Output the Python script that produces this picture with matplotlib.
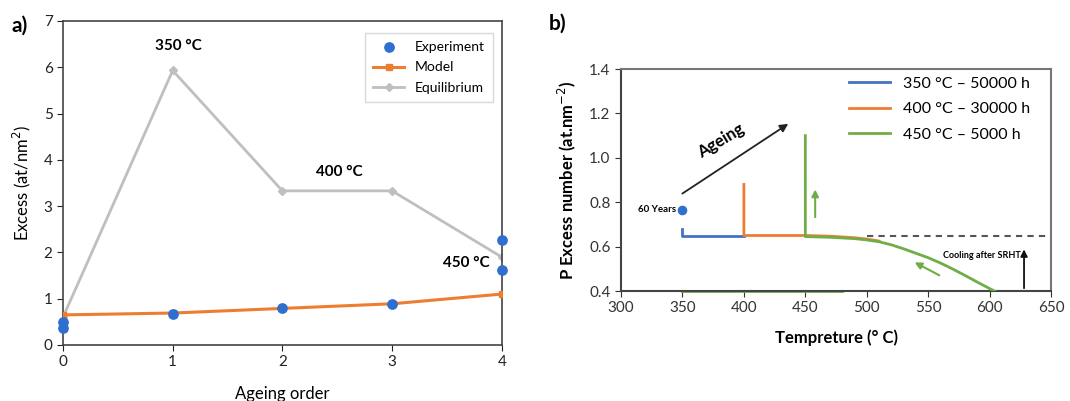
import matplotlib
matplotlib.use("Agg")
import matplotlib.pyplot as plt
import numpy as np

plt.rcParams['font.family'] = ['Lato', 'DejaVu Sans']

# ---- Panel a data ----
order = [0, 1, 2, 3, 4]
exp_x = [0, 0, 1, 2, 3, 4, 4]
exp_y = [0.50, 0.37, 0.67, 0.80, 0.89, 2.27, 1.62]
model_y = [0.65, 0.69, 0.79, 0.89, 1.10]
equil_y = [0.60, 5.93, 3.33, 3.33, 1.90]
a_xticks = [0, 1, 2, 3, 4]
a_yticks = [0, 1, 2, 3, 4, 5, 6, 7]

# ---- Panel b data ----
blue_x = [350, 350, 400]
blue_y = [0.68, 0.65, 0.65]
orange_x = [400, 400, 450, 470, 490, 500, 510]
orange_y = [0.88, 0.65, 0.65, 0.647, 0.640, 0.634, 0.625]
green_x = [450, 450, 470, 490, 500, 510, 520, 530, 540, 550, 560, 570, 580, 590, 600, 604]
green_y = [1.10, 0.645, 0.642, 0.636, 0.630, 0.622, 0.608, 0.590, 0.570, 0.550,
           0.526, 0.499, 0.470, 0.440, 0.411, 0.40]
green_base_x = [350, 480]
green_base_y = [0.40, 0.40]
dash_x = [500, 650]
dash_y = [0.65, 0.65]
years60 = (350, 0.765)
b_xticks = [300, 350, 400, 450, 500, 550, 600, 650]
b_yticks = [0.4, 0.6, 0.8, 1.0, 1.2, 1.4]

blue = '#4472C4'
orange = '#ED7D31'
green = '#70AD47'
gray = '#BFBFBF'
ptblue = '#2E6FD0'

fig = plt.figure(figsize=(10.7, 4.01), dpi=100)

# ---------- Panel a ----------
ax = fig.add_axes([0.0589, 0.1397, 0.410, 0.808])
ax.plot(order, equil_y, color=gray, lw=2, marker='D', ms=4, label='Equilibrium', zorder=2)
ax.plot(order, model_y, color=orange, lw=2.2, marker='s', ms=5, label='Model', zorder=3)
ax.scatter(exp_x, exp_y, color=ptblue, s=45, zorder=4, label='Experiment', clip_on=False)
ax.set_xlim(0, 4)
ax.set_ylim(0, 7)
ax.set_xticks(a_xticks)
ax.set_yticks(a_yticks)
ax.tick_params(direction='out', length=4, labelsize=11, colors='#222222')
for s in ax.spines.values():
    s.set_color('#444444')
    s.set_linewidth(1.2)
ax.set_xlabel('Ageing order', fontsize=12, labelpad=12)
ax.set_ylabel('Excess (at/nm$^{2}$)', fontsize=12, labelpad=8)
h, l = ax.get_legend_handles_labels()
leg = ax.legend([h[2], h[1], h[0]], [l[2], l[1], l[0]], loc='upper right',
                bbox_to_anchor=(0.997, 0.985), fontsize=10, frameon=True,
                fancybox=False, edgecolor='#D0D0D0', borderpad=0.6, labelspacing=0.6,
                handlelength=2.2)
ax.text(1.05, 6.45, '350 °C', fontsize=11, fontweight='bold', ha='center', va='center')
ax.text(2.52, 3.74, '400 °C', fontsize=11, fontweight='bold', ha='center', va='center')
ax.text(3.68, 1.77, '450 °C', fontsize=11, fontweight='bold', ha='center', va='center')
fig.text(0.011, 0.92, 'a)', fontsize=15, fontweight='bold')

# ---------- Panel b ----------
bx = fig.add_axes([0.5804, 0.2743, 0.4019, 0.5536])
bx.plot(dash_x, dash_y, color='#555555', lw=1.5, ls=(0, (3, 2.5)), zorder=1)
bx.plot(green_base_x, green_base_y, color=green, lw=2, zorder=2, clip_on=False)
bx.plot(blue_x, blue_y, color=blue, lw=2, label='350 °C – 50000 h', zorder=3)
bx.plot(orange_x, orange_y, color=orange, lw=2, label='400 °C – 30000 h', zorder=3)
bx.plot(green_x, green_y, color=green, lw=2, label='450 °C – 5000 h', zorder=4)
bx.scatter([years60[0]], [years60[1]], color=ptblue, s=35, zorder=5)
bx.text(years60[0] - 5, years60[1], '60 Years', fontsize=7, fontweight='bold',
        ha='right', va='center')
bx.annotate('', xy=(438, 1.16), xytext=(348, 0.832),
            arrowprops=dict(arrowstyle='-|>', color='#222222', lw=1.3, mutation_scale=12))
bx.text(381, 1.075, 'Ageing', rotation=31, fontsize=12, fontweight='bold',
        ha='center', va='center')
bx.annotate('', xy=(458, 0.87), xytext=(458, 0.72),
            arrowprops=dict(arrowstyle='-|>', color=green, lw=1.5, mutation_scale=10))
bx.annotate('', xy=(537, 0.535), xytext=(561, 0.465),
            arrowprops=dict(arrowstyle='-|>', color=green, lw=1.5, mutation_scale=10))
bx.annotate('', xy=(628, 0.60), xytext=(628, 0.40),
            arrowprops=dict(arrowstyle='-|>', color='#111111', lw=1.3, mutation_scale=10))
bx.text(594, 0.56, 'Cooling after SRHT', fontsize=6.5, fontweight='bold',
        ha='center', va='center')
bx.set_xlim(300, 650)
bx.set_ylim(0.4, 1.4)
bx.set_xticks(b_xticks)
bx.set_yticks(b_yticks)
bx.set_yticklabels([f'{v:.1f}' for v in b_yticks])
bx.tick_params(direction='out', length=4, labelsize=11, colors='#333333')
for k, s in bx.spines.items():
    s.set_linewidth(1.5)
    s.set_color('#444444' if k in ('left', 'bottom') else '#777777')
bx.set_xlabel('Tempreture (° C)', fontsize=12, fontweight='bold', labelpad=10)
bx.set_ylabel('P Excess number (at.nm$^{-2}$)', fontsize=12, fontweight='bold', labelpad=8)
bx.legend(loc='upper right', bbox_to_anchor=(0.985, 1.03), fontsize=11.5, frameon=False,
          handlelength=2.6, labelspacing=0.7)
fig.text(0.513, 0.925, 'b)', fontsize=15, fontweight='bold')

fig.savefig('out.png', dpi=100)
